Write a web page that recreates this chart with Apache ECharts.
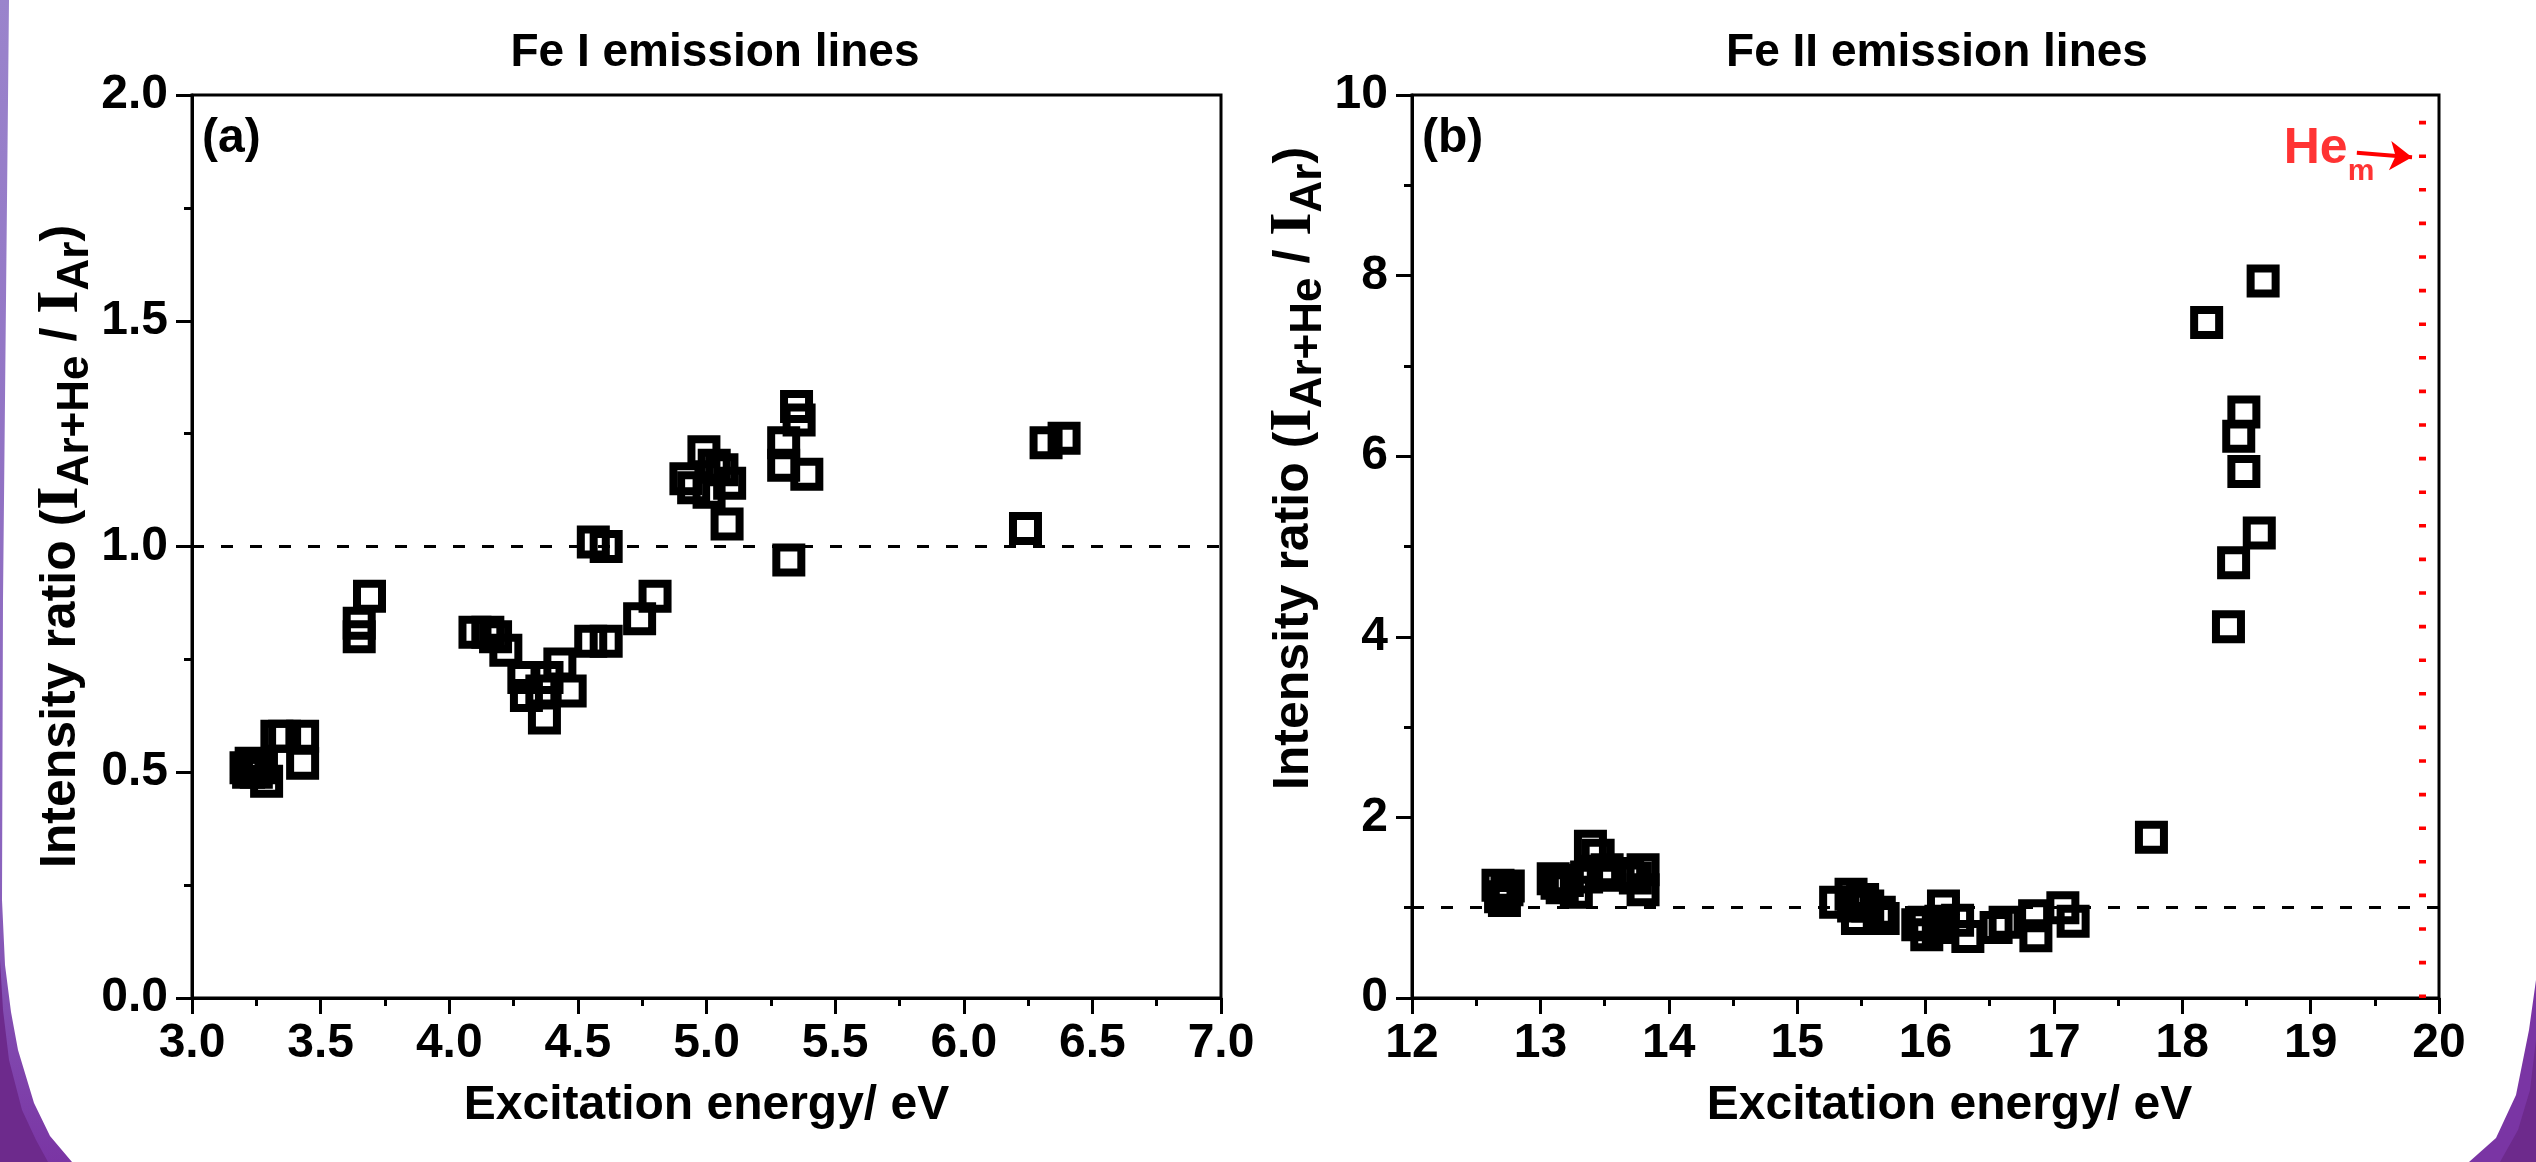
<!DOCTYPE html>
<html>
<head>
<meta charset="utf-8">
<title>Fe I / Fe II emission line intensity ratios</title>
<script src="https://cdn.jsdelivr.net/npm/echarts@6/dist/echarts.min.js"></script>
<style>
  html, body { margin: 0; padding: 0; background: #ffffff; }
  #chart { width: 2536px; height: 1162px; }
</style>
</head>
<body>
<div id="chart"></div>
<script>
// Fe I lines: excitation energy (eV) and intensity ratio I(Ar+He)/I(Ar)
const feIEnergy = [3.21, 3.22, 3.23, 3.25, 3.27, 3.29, 3.33, 3.36, 3.43, 3.43,
                   3.65, 3.65, 3.69,
                   4.10, 4.15, 4.18, 4.22, 4.29, 4.30, 4.36, 4.37, 4.38, 4.43, 4.47,
                   4.55, 4.61, 4.56, 4.61, 4.74, 4.80,
                   4.92, 4.95, 4.99, 5.01, 5.03, 5.06, 5.09, 5.08,
                   5.30, 5.30, 5.35, 5.36, 5.39, 5.32,
                   6.24, 6.32, 6.39];
const feIRatio  = [0.51, 0.50, 0.52, 0.50, 0.51, 0.48, 0.58, 0.58, 0.58, 0.52,
                   0.83, 0.80, 0.89,
                   0.81, 0.81, 0.80, 0.77, 0.71, 0.67, 0.68, 0.62, 0.71, 0.74, 0.68,
                   0.79, 0.79, 1.01, 1.00, 0.84, 0.89,
                   1.15, 1.13, 1.21, 1.12, 1.18, 1.17, 1.14, 1.05,
                   1.23, 1.18, 1.31, 1.28, 1.16, 0.97,
                   1.04, 1.23, 1.24];

// Fe II lines
const feIIEnergy = [12.67, 12.69, 12.72, 12.74, 12.75,
                    13.10, 13.13, 13.17, 13.21, 13.28,
                    13.39, 13.45, 13.36, 13.52, 13.49, 13.68, 13.80, 13.80, 13.74,
                    15.30, 15.42, 15.51, 15.44, 15.47, 15.55, 15.64, 15.67,
                    15.94, 15.99, 16.01, 16.12, 16.14, 16.10, 16.33, 16.25, 16.55, 16.62, 16.85, 16.86, 17.07, 17.15,
                    17.76,
                    18.19, 18.63, 18.48, 18.44, 18.48, 18.60, 18.40, 18.36];
const feIIRatio  = [1.25, 1.12, 1.08, 1.20, 1.24,
                    1.32, 1.27, 1.22, 1.30, 1.17,
                    1.68, 1.58, 1.34, 1.42, 1.36, 1.38, 1.42, 1.20, 1.33,
                    1.06, 1.15, 1.09, 1.02, 0.88, 1.02, 0.95, 0.88,
                    0.81, 0.84, 0.70, 0.85, 1.02, 0.78, 0.68, 0.86, 0.78, 0.84, 0.91, 0.69, 1.00, 0.85,
                    1.78,
                    7.48, 7.94, 6.49, 6.22, 5.83, 5.15, 4.82, 4.11];

// Reference levels
const unityRatio = 1;
const heMetastableEnergy = 19.87;
const heLabelAnchor = [19.50, 9.40];
const heArrowFrom = [19.36, 9.36];
const heArrowTo = [19.79, 9.31];

// Axis ranges
const axisA = { xMin: 3, xMax: 7, xStep: 0.5, yMin: 0, yMax: 2, yStep: 0.5 };
const axisB = { xMin: 12, xMax: 20, xStep: 1, yMin: 0, yMax: 10, yStep: 2 };

const FONT = '"Liberation Sans", Arial, sans-serif';
const SERIF = '"Liberation Serif", "Times New Roman", serif';

const zip = (xs, ys) => xs.map((x, i) => [x, ys[i]]);

function xAxisFor(ax, gridIndex, fmt, namePad) {
  return {
    type: 'value', gridIndex, min: ax.xMin, max: ax.xMax, interval: ax.xStep,
    name: 'Excitation energy/ eV', nameLocation: 'middle', nameGap: 84,
    nameTextStyle: { fontFamily: FONT, fontWeight: 'bold', fontSize: 48, color: '#000', padding: namePad },
    axisLine: { show: true, onZero: false, lineStyle: { color: '#000', width: 3 } },
    axisTick: { show: true, inside: false, length: 16, lineStyle: { color: '#000', width: 3 } },
    minorTick: { show: true, splitNumber: 2, length: 8, lineStyle: { color: '#000', width: 3 } },
    splitLine: { show: false },
    axisLabel: { show: true, margin: 22, fontFamily: FONT, fontWeight: 'bold', fontSize: 48, color: '#000',
                 showMinLabel: true, showMaxLabel: true, formatter: fmt }
  };
}

const yNameRich = {
  t: { fontFamily: FONT, fontWeight: 'bold', fontSize: 50, color: '#000', lineHeight: 72 },
  i: { fontFamily: SERIF, fontWeight: 'bold', fontSize: 60, color: '#000', lineHeight: 72 },
  s: { fontFamily: FONT, fontWeight: 'bold', fontSize: 44, color: '#000', verticalAlign: 'bottom' }
};

function yAxisFor(ax, gridIndex, fmt, namePad) {
  return {
    type: 'value', gridIndex, min: ax.yMin, max: ax.yMax, interval: ax.yStep,
    name: '{t|Intensity ratio (}{i|I}{s|Ar+He}{t| / }{i|I}{s|Ar}{t|)}',
    nameLocation: 'middle', nameRotate: 90, nameGap: 80,
    nameTextStyle: { rich: yNameRich, padding: namePad },
    axisLine: { show: true, onZero: false, lineStyle: { color: '#000', width: 3 } },
    axisTick: { show: true, inside: false, length: 16, lineStyle: { color: '#000', width: 3 } },
    minorTick: { show: true, splitNumber: 2, length: 8, lineStyle: { color: '#000', width: 3 } },
    splitLine: { show: false },
    axisLabel: { show: true, margin: 24, fontFamily: FONT, fontWeight: 'bold', fontSize: 48, color: '#000',
                 showMinLabel: true, showMaxLabel: true, formatter: fmt }
  };
}

const squareMarker = {
  type: 'scatter', symbol: 'rect', symbolSize: 25, silent: true,
  itemStyle: { color: 'rgba(0,0,0,0)', borderColor: '#000', borderWidth: 8, opacity: 1 }
};

const unityLine = {
  yAxis: unityRatio,
  lineStyle: { color: '#000', width: 3, type: [12, 17] }
};

// Slide background accents along the left edge and bottom-right corner
const leftAccent = [[0, 0], [9, 0], [6, 300], [3, 600], [2, 900], [5, 965], [11, 1012], [18, 1050],
                    [34, 1103], [50, 1136], [72, 1162], [0, 1162]];
const leftAccentDark = [[0, 960], [3, 1010], [9, 1060], [22, 1110], [36, 1140], [48, 1162], [0, 1162]];
const rightAccent = [[2536, 980], [2529, 1030], [2516, 1095], [2496, 1138], [2469, 1162], [2536, 1162]];
const rightAccentDark = [[2536, 1040], [2530, 1090], [2518, 1130], [2500, 1162], [2536, 1162]];

const chart = echarts.init(document.getElementById('chart'), null, { renderer: 'canvas' });

chart.setOption({
  animation: false,
  backgroundColor: '#ffffff',
  grid: [
    { left: 192, right: 1315, top: 95, bottom: 164, show: true, borderColor: '#000', borderWidth: 3, backgroundColor: 'rgba(0,0,0,0)' },
    { left: 1412, right: 97, top: 95, bottom: 164, show: true, borderColor: '#000', borderWidth: 3, backgroundColor: 'rgba(0,0,0,0)' }
  ],
  xAxis: [
    xAxisFor(axisA, 0, v => v.toFixed(1), [0, 0, 0, 0]),
    xAxisFor(axisB, 1, v => String(v), [0, 0, 0, 48])
  ],
  yAxis: [
    yAxisFor(axisA, 0, v => v.toFixed(1), [0, 0, 0, 0]),
    yAxisFor(axisB, 1, v => String(v), [0, 0, 0, 156])
  ],
  graphic: [
    { type: 'polygon', z: -10, shape: { points: leftAccent },
      style: { fill: new echarts.graphic.LinearGradient(0, 0, 0, 1, [
        { offset: 0, color: '#9a84cc' }, { offset: 0.75, color: '#8a63bd' }, { offset: 1, color: '#7a35a4' }]) } },
    { type: 'polygon', z: -9, shape: { points: leftAccentDark }, style: { fill: '#6d2a8c' } },
    { type: 'polygon', z: -10, shape: { points: rightAccent }, style: { fill: '#7a35a4' } },
    { type: 'polygon', z: -9, shape: { points: rightAccentDark }, style: { fill: '#6d2a8c' } },
    { type: 'text', x: 715, y: 30, style: { text: 'Fe I emission lines', fontFamily: FONT, fontWeight: 'bold',
      fontSize: 46, fill: '#000', textAlign: 'center', textVerticalAlign: 'top' } },
    { type: 'text', x: 1937, y: 30, style: { text: 'Fe II emission lines', fontFamily: FONT, fontWeight: 'bold',
      fontSize: 46, fill: '#000', textAlign: 'center', textVerticalAlign: 'top' } },
    { type: 'text', x: 202, y: 115, style: { text: '(a)', fontFamily: FONT, fontWeight: 'bold',
      fontSize: 48, fill: '#000', textAlign: 'left', textVerticalAlign: 'top' } },
    { type: 'text', x: 1422, y: 115, style: { text: '(b)', fontFamily: FONT, fontWeight: 'bold',
      fontSize: 48, fill: '#000', textAlign: 'left', textVerticalAlign: 'top' } }
  ],
  series: [
    Object.assign({}, squareMarker, {
      name: 'Fe I', xAxisIndex: 0, yAxisIndex: 0,
      data: zip(feIEnergy, feIRatio),
      markLine: { silent: true, symbol: ['none', 'none'], label: { show: false }, data: [unityLine] }
    }),
    Object.assign({}, squareMarker, {
      name: 'Fe II', xAxisIndex: 1, yAxisIndex: 1,
      data: zip(feIIEnergy, feIIRatio),
      markLine: {
        silent: true, symbol: ['none', 'none'], label: { show: false },
        data: [
          unityLine,
          { xAxis: heMetastableEnergy, lineStyle: { color: '#ff0000', width: 7, type: [3.6, 30] } }
        ]
      }
    }),
    {
      name: 'He metastable', type: 'scatter', xAxisIndex: 1, yAxisIndex: 1, silent: true,
      symbolSize: 1, itemStyle: { color: 'rgba(0,0,0,0)' },
      data: [heLabelAnchor],
      label: {
        show: true, position: 'left', distance: 0,
        formatter: '{he|He}{m|m}',
        rich: {
          he: { fontFamily: FONT, fontWeight: 'bold', fontSize: 50, color: '#ff0000', lineHeight: 76 },
          m: { fontFamily: FONT, fontWeight: 'bold', fontSize: 30, color: '#ff0000', verticalAlign: 'bottom' }
        }
      },
      markLine: {
        silent: true, symbol: ['none', 'arrow'], symbolSize: 22, label: { show: false },
        lineStyle: { color: '#ff0000', width: 4, type: 'solid' },
        data: [[{ coord: heArrowFrom }, { coord: heArrowTo }]]
      }
    }
  ]
});
</script>
</body>
</html>
